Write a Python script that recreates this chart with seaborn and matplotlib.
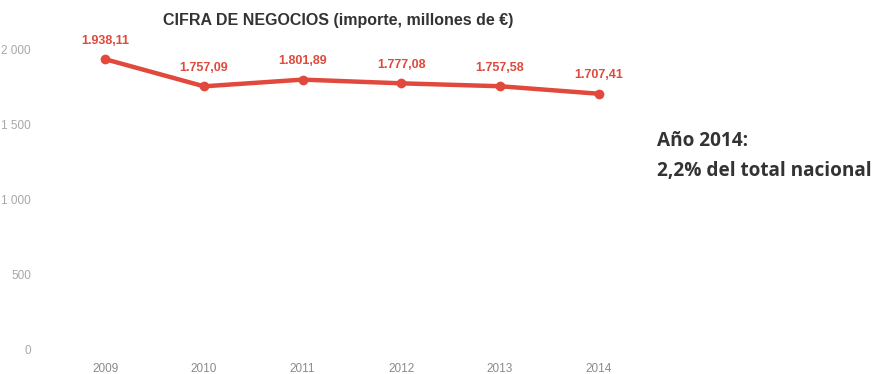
import seaborn as sns
import pandas as pd
from matplotlib import pyplot as plt

# data
years = ['2009', '2010', '2011', '2012', '2013', '2014']
cifra = [1938.11, 1757.09, 1801.89, 1777.08, 1757.58, 1707.41]
etiquetas = ['1.938,11', '1.757,09', '1.801,89', '1.777,08', '1.757,58', '1.707,41']
yticks = [0, 500, 1000, 1500, 2000]
ytick_labels = ['0', '500', '1 000', '1 500', '2 000']

red = '#e0493b'
grey = '#a8a8a8'

sns.set_style('white')
plt.rcParams['font.family'] = ['Liberation Sans', 'DejaVu Sans']

df = pd.DataFrame({'year': years, 'value': cifra})

fig = plt.figure(figsize=(8.75, 3.74), dpi=100)
ax = fig.add_axes([56 / 875, 1 - 349 / 374, 592 / 875, 299 / 374])

sns.lineplot(data=df, x='year', y='value', ax=ax, color=red, linewidth=3.2,
             marker='o', markersize=7, markeredgewidth=0, sort=False)

for i, (v, lab) in enumerate(zip(cifra, etiquetas)):
    ax.annotate(lab, (i, v), xytext=(0, 9), textcoords='offset points',
                ha='center', va='bottom', color=red, fontsize=9, fontweight='bold')

ax.set_xlim(-0.5, 5.5)
ax.set_ylim(0, 2000)
ax.set_yticks(yticks)
ax.set_yticklabels(ytick_labels)
ax.tick_params(axis='y', length=0, pad=18, labelsize=8.5, labelcolor=grey)
ax.tick_params(axis='x', length=0, pad=10, labelsize=8.5, labelcolor='#8a8a8a')
ax.set_xlabel('')
ax.set_ylabel('')
sns.despine(ax=ax, left=True, bottom=True)

fig.text(338 / 875, 1 - 20 / 374, 'CIFRA DE NEGOCIOS (importe, millones de €)',
         ha='center', va='center', fontsize=11.5, fontweight='bold', color='#333333')

fig.text(657 / 875, 1 - 156 / 374, 'Año 2014:\n2,2% del total nacional',
         ha='left', va='center', fontsize=13.7, fontweight='bold', color='#333333',
         family=['Open Sans', 'DejaVu Sans'], linespacing=1.65)

fig.savefig('out.png', dpi=100)
